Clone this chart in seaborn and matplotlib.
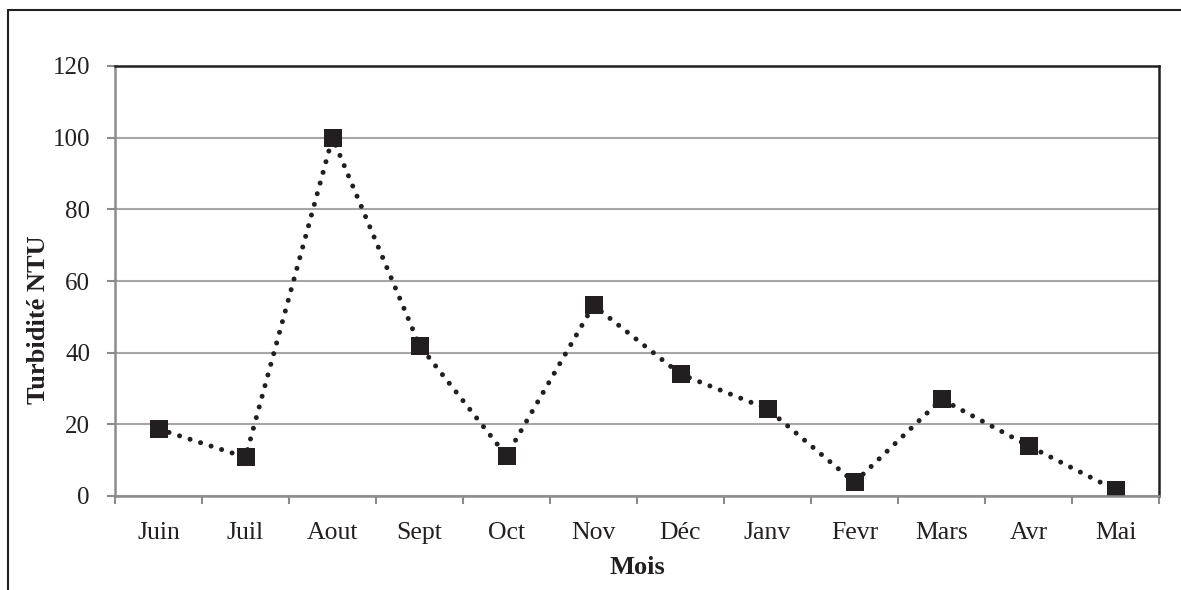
import matplotlib
matplotlib.use("Agg")
import matplotlib.pyplot as plt
import seaborn as sns
import pandas as pd
from matplotlib.lines import Line2D

months = ["Juin", "Juil", "Aout", "Sept", "Oct", "Nov", "Déc", "Janv", "Fevr", "Mars", "Avr", "Mai"]
turbidity = [18.7, 10.8, 100, 42, 11.2, 53.2, 34, 24.3, 3.8, 27, 14, 1.7]
y_ticks = [0, 20, 40, 60, 80, 100, 120]

sns.set_theme(style="white")
plt.rcParams['font.family'] = ['Liberation Serif', 'DejaVu Serif']

df = pd.DataFrame({"Mois": months, "Turbidité NTU": turbidity})

fig = plt.figure(figsize=(11.81, 5.90), dpi=100)
ax = fig.add_axes([115/1181, 1-496/590, (1159-115)/1181, (496-66)/590])

sns.lineplot(data=df, x="Mois", y="Turbidité NTU", sort=False, ax=ax,
             color="#231f20", linewidth=3.6, linestyle=(0, (0.01, 2.2)),
             dash_capstyle="round", marker="s", markersize=12.5,
             markeredgewidth=0, markerfacecolor="#231f20")

ax.set_xlim(-0.5, len(months) - 0.5)
ax.set_ylim(0, 120)
ax.set_yticks(y_ticks)
ax.set_yticklabels([str(v) for v in y_ticks])
ax.yaxis.grid(True, color="#a6a6a6", linewidth=1.5)
ax.set_axisbelow(True)

ax.set_xticks(range(len(months)))
ax.set_xticklabels(months)
ax.set_xticks([i - 0.5 for i in range(len(months) + 1)], minor=True)
ax.tick_params(axis="x", which="major", length=0, pad=19, labelsize=18.5, colors="#231f20")
ax.tick_params(axis="x", which="minor", length=6, width=1.5, color="#8c8c8c", direction="out", bottom=True)
ax.tick_params(axis="y", which="major", length=6, width=1.5, color="#8c8c8c", direction="out",
               left=True, pad=12, labelsize=18, labelcolor="#231f20")

for s in ["left", "bottom"]:
    ax.spines[s].set_color("#8c8c8c")
    ax.spines[s].set_linewidth(1.8)
for s in ["top", "right"]:
    ax.spines[s].set_color("#231f20")
    ax.spines[s].set_linewidth(1.8)

ax.set_xlabel("Mois", fontsize=19, fontweight="bold", color="#231f20", labelpad=8)
ax.set_ylabel("Turbidité NTU", fontsize=19, fontweight="bold", color="#231f20")
ax.yaxis.set_label_coords(-0.062, 0.41)

# outer chart frame (cropped at right and bottom)
fig.add_artist(Line2D([8/1181, 1.0], [1-10/590, 1-10/590], transform=fig.transFigure,
                      color="#231f20", linewidth=1.5))
fig.add_artist(Line2D([8/1181, 8/1181], [0.0, 1-10/590], transform=fig.transFigure,
                      color="#231f20", linewidth=1.5))

fig.savefig("out.png", dpi=100, facecolor="white")
